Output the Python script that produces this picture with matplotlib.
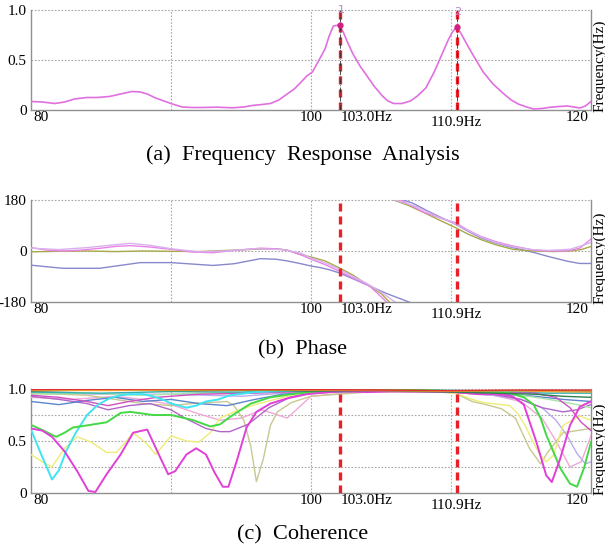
import numpy as np
import matplotlib
matplotlib.use("Agg")
import matplotlib.pyplot as plt

plt.rcParams['font.family'] = ['Liberation Serif', 'DejaVu Serif']

# marker lines (position on axis) and their labels
marker_freqs = [102.1, 110.4]
marker_labels = ["103.0Hz", "110.9Hz"]
marker_ids = ["1", "2"]
marker_mags = [0.85, 0.83]

# (a) frequency response magnitude
freq_a = [80, 80.8, 81.7, 82.4, 83.1, 84, 84.7, 85.6, 86.4, 87.2, 87.8, 88.3, 88.9,
          89.4, 90.1, 90.8, 91.5, 92.2, 93.3, 94.4, 95.2, 95.8, 96.5, 97.1, 97.7,
          98.2, 98.8, 99.3, 99.7, 100.1, 100.5, 101.0, 101.3, 101.6, 102.0, 102.3,
          102.6, 103.0, 103.5, 104.0, 104.5, 105.1, 105.5, 105.9, 106.5, 107.1,
          107.6, 108.2, 108.8, 109.3, 109.8, 110.1, 110.4, 110.7, 111.2, 111.7,
          112.3, 113.0, 113.7, 114.3, 114.8, 115.4, 115.9, 116.5, 117.0, 117.7,
          118.3, 118.8, 119.2, 119.6, 120]
mag_a = [0.085, 0.08, 0.065, 0.08, 0.11, 0.125, 0.125, 0.135, 0.16, 0.185, 0.18, 0.16,
         0.12, 0.095, 0.06, 0.03, 0.025, 0.025, 0.028, 0.022, 0.03, 0.045, 0.055,
         0.065, 0.1, 0.15, 0.21, 0.28, 0.34, 0.38, 0.48, 0.61, 0.74, 0.84, 0.85, 0.78,
         0.68, 0.56, 0.44, 0.34, 0.24, 0.14, 0.09, 0.065, 0.065, 0.09, 0.14, 0.22,
         0.38, 0.54, 0.7, 0.78, 0.83, 0.77, 0.64, 0.52, 0.38, 0.26, 0.17, 0.1, 0.06,
         0.03, 0.01, 0.015, 0.026, 0.035, 0.04, 0.03, 0.02, 0.04, 0.085]

# (b) phase, two branches per channel (wrapped at +-180)
phase = {
    "#8888cc": ([80, 81, 82.3, 84.9, 86.5, 87.8, 90, 91.5, 93, 94.5, 96.4, 97.5, 98.3,
                 99.2, 100, 100.6, 101.3, 102, 103, 104.2, 105.5, 107, 107.5],
                [-50, -55, -61, -61, -50, -41, -41, -46, -51, -45, -27, -29, -35, -44,
                 -53, -58, -66, -77, -98, -124, -152, -180, -190],
                [106.3, 106.6, 107.3, 108.3, 109.3, 110.3, 111.2, 112.1, 113.2, 114.4,
                 115.9, 117, 118.3, 119.2, 120],
                [190, 180, 168, 142, 118, 95, 70, 47, 28, 12, -5, -20, -36, -44, -44]),
    "#a8a848": ([80, 82, 84, 86, 88, 90, 92, 94, 96, 97.5, 98.3, 99.2, 100, 101, 102,
                 103, 104, 105, 105.6, 106],
                [-3, -1, 0, -2, 0, -1, -2, 2, 6, 8, 3, -12, -21, -35, -59, -85, -118,
                 -150, -180, -195],
                [105.6, 105.9, 107, 108.3, 109.3, 110.3, 111.2, 112.1, 113.2, 114.4,
                 115.5, 117.3, 118.5, 119.3, 120],
                [195, 180, 160, 130, 106, 83, 60, 41, 22, 6, 1, -2, 0, 5, 16]),
    "#e884e8": ([80, 81.3, 82.3, 83.5, 85, 86, 87.1, 88.5, 90, 91.6, 93, 94.5, 96.4,
                 97.4, 98.3, 99.3, 100, 101, 102, 103, 104.2, 105.4, 105.8],
                [12, 2, 0, 3, 10, 16, 19, 14, 6, -4, -6, 2, 10, 8, 3, -14, -29, -48,
                 -71, -95, -124, -180, -195],
                [106.0, 106.4, 108, 109.3, 110.3, 111.2, 112.1, 113.2, 114.4, 115.8,
                 116.8, 118.3, 119.2, 120],
                [195, 180, 138, 115, 100, 74, 52, 33, 18, 4, 0, 0, 10, 42]),
    "#d8b0ec": ([80, 82, 84, 86, 87.1, 88.5, 90, 92, 94, 96, 98, 99.3, 100, 101, 102,
                 103, 104, 105, 106, 106.4],
                [10, 5, 12, 22, 27, 20, 8, -3, 0, 8, 5, -8, -25, -42, -64, -90, -115,
                 -145, -180, -192],
                [105.6, 106, 107.5, 109, 110.3, 111.2, 112.1, 113.2, 114.4, 115.8, 117,
                 118.5, 119.3, 120],
                [192, 180, 157, 122, 96, 72, 50, 30, 15, 5, 2, 6, 18, 30]),
}

# (c) coherence, one entry per channel: colour -> (freqs, values)
coherence = {
    "#f0a8d8": ([80, 83, 86, 88, 90, 92, 93.5, 95, 96.5, 98.3, 100, 104, 110, 113,
                 115, 116.5, 117.5, 118.5, 119.3, 120],
                [0.92, 0.9, 0.93, 0.9, 0.85, 0.76, 0.7, 0.72, 0.8, 0.72, 0.93, 0.98,
                 0.97, 0.94, 0.88, 0.72, 0.5, 0.25, 0.3, 0.55]),
    "#bcaaf0": ([80, 85, 90, 95, 100, 105, 110, 113, 115, 116.5, 117.5, 118.3, 119,
                 119.6, 120],
                [0.96, 0.95, 0.95, 0.93, 0.98, 0.98, 0.97, 0.94, 0.9, 0.82, 0.7, 0.55,
                 0.38, 0.28, 0.3]),
    "#c8c890": ([80, 82, 84, 86, 88, 90, 91.5, 92.8, 94, 94.5, 95.2, 95.7, 96.1, 96.6,
                 97.1, 97.6, 98.6, 100, 104, 108, 110.3, 111.5, 112.5, 113.6, 114.6,
                 115.6, 116.4, 116.9, 118, 119, 120],
                [0.96, 0.95, 0.94, 0.9, 0.86, 0.84, 0.86, 0.87, 0.88, 0.84, 0.7, 0.45,
                 0.11, 0.33, 0.65, 0.78, 0.87, 0.93, 0.97, 0.98, 0.96, 0.88, 0.85,
                 0.81, 0.72, 0.43, 0.28, 0.39, 0.58, 0.6, 0.62]),
    "#ecec78": ([80, 80.8, 81.5, 82.4, 83.3, 84.3, 85.4, 86.1, 86.7, 87.3, 88.3, 88.9,
                 90, 91.1, 92, 92.8, 93.5, 94.5, 96, 98, 100, 104, 108, 110.3, 111.5,
                 112.3, 114.2, 114.8, 115.4, 115.9, 116.4, 116.8, 117.3, 118, 119.2,
                 120],
                [0.37, 0.3, 0.25, 0.43, 0.54, 0.49, 0.39, 0.39, 0.48, 0.58, 0.47, 0.37,
                 0.55, 0.5, 0.49, 0.58, 0.72, 0.78, 0.85, 0.92, 0.96, 0.98, 0.98, 0.96,
                 0.9, 0.87, 0.84, 0.76, 0.62, 0.48, 0.36, 0.3, 0.36, 0.65, 0.74, 0.7]),
    "#b066c8": ([80, 82, 84, 85.5, 87, 88.5, 90, 91, 92.5, 93.5, 94.2, 95.5, 97, 98.5,
                 100, 104, 110, 113, 115, 116.5, 118, 119, 120],
                [0.93, 0.9, 0.86, 0.8, 0.84, 0.86, 0.8, 0.72, 0.62, 0.59, 0.59, 0.66,
                 0.82, 0.92, 0.96, 0.98, 0.97, 0.95, 0.9, 0.82, 0.78, 0.8, 0.85]),
    "#5a86cc": ([80, 82, 84, 86, 88, 90, 92, 94, 96, 98, 100, 104, 108, 112, 114, 116,
                 118, 120],
                [0.88, 0.85, 0.89, 0.92, 0.88, 0.9, 0.86, 0.84, 0.9, 0.95, 0.97, 0.98,
                 0.98, 0.96, 0.95, 0.93, 0.9, 0.88]),
    "#a8e4a8": ([80, 84, 88, 92, 96, 100, 105, 110, 114, 117, 119, 120],
                [0.95, 0.96, 0.94, 0.96, 0.97, 0.985, 0.98, 0.97, 0.96, 0.9, 0.85,
                 0.82]),
    "#30b0b0": ([80, 85, 90, 95, 100, 106, 110, 114, 117, 120],
                [0.97, 0.96, 0.975, 0.97, 0.99, 0.98, 0.975, 0.97, 0.96, 0.96]),
    "#d050c0": ([80, 82, 84, 85.5, 87, 89, 92, 96, 100, 110, 116, 117.5, 118.5, 119.3,
                 120],
                [0.94, 0.92, 0.88, 0.84, 0.88, 0.92, 0.95, 0.96, 0.98, 0.97, 0.96,
                 0.92, 0.82, 0.68, 0.6]),
    "#40e4f0": ([80, 80.7, 81.5, 82, 82.5, 83.2, 84, 84.8, 85.6, 86.4, 87.1, 88, 88.7,
                 89.4, 90, 90.6, 91.1, 91.8, 92.5, 93.4, 94.2, 96, 98, 100, 104, 108,
                 112, 116, 120],
                [0.61, 0.38, 0.13, 0.22, 0.4, 0.58, 0.75, 0.85, 0.91, 0.94, 0.95, 0.95,
                 0.93, 0.9, 0.86, 0.84, 0.82, 0.84, 0.88, 0.9, 0.94, 0.97, 0.98, 0.99,
                 0.98, 0.99, 0.98, 0.98, 0.97]),
    "#44d844": ([80, 80.9, 81.8, 82.4, 83, 84, 85.4, 86.4, 87.1, 88.7, 90, 91.6, 92.8,
                 93.5, 94.2, 95, 95.7, 96.4, 97.1, 98.6, 100, 104, 108, 112, 114.2,
                 115.2, 115.9, 116.4, 116.8, 117.3, 117.8, 118.5, 119, 119.5, 120],
                [0.655, 0.6, 0.54, 0.58, 0.63, 0.65, 0.68, 0.77, 0.78, 0.75, 0.75, 0.7,
                 0.64, 0.66, 0.73, 0.8, 0.86, 0.89, 0.92, 0.95, 0.97, 0.99, 0.99, 0.97,
                 0.96, 0.92, 0.85, 0.72, 0.56, 0.4, 0.24, 0.09, 0.06, 0.24, 0.49]),
    "#e040d8": ([80, 80.8, 81.5, 82.4, 83.3, 84.1, 84.6, 85.4, 86.4, 87.3, 88.3, 89.2,
                 89.8, 90.3, 91.1, 91.8, 92.5, 93.1, 93.7, 94.1, 94.7, 95.4, 96.1,
                 97.1, 98.3, 99.7, 102.1, 104, 106, 108, 110.3, 112, 113.5, 114.4,
                 115.2, 116.1, 116.8, 117.2, 117.8, 118.5, 119.2, 120],
                [0.62, 0.6, 0.54, 0.4, 0.21, 0.02, 0.01, 0.18, 0.37, 0.58, 0.61, 0.35,
                 0.18, 0.21, 0.37, 0.43, 0.37, 0.2, 0.06, 0.06, 0.31, 0.63, 0.78, 0.86,
                 0.91, 0.95, 0.98, 0.97, 0.98, 0.98, 0.97, 0.95, 0.95, 0.93, 0.85,
                 0.49, 0.17, 0.105, 0.33, 0.65, 0.83, 0.88]),
    "#308050": ([80, 85, 90, 95, 100, 105, 110.3, 113, 116, 118, 120],
                [0.98, 0.99, 0.985, 0.99, 0.98, 0.985, 0.97, 0.96, 0.95, 0.93, 0.92]),
    "#b07030": ([80, 86, 92, 98, 104, 110, 116, 120],
                [0.985, 0.99, 0.985, 0.99, 0.99, 0.98, 0.985, 0.98]),
    "#f0a030": ([80, 85, 90, 95, 100, 105, 110, 114, 117, 120],
                [0.99, 0.985, 0.99, 0.995, 0.99, 0.985, 0.98, 0.985, 0.975, 0.97]),
    "#e03030": ([80, 90, 100, 105, 110, 115, 120],
                [0.995, 1.0, 0.995, 0.99, 0.985, 0.99, 0.99]),
}

captions = ["(a)  Frequency  Response  Analysis", "(b)  Phase", "(c)  Coherence"]
ylims = [(0, 1.0), (-180, 180), (0, 1.0)]
yticks = [[0, 0.5, 1.0], [-180, 0, 180], [0, 0.5, 1.0]]
ytick_labels = [["0", "0.5", "1.0"], ["-180", "0", "180"], ["0", "0.5", "1.0"]]
hgrid = [[0.5], [0], [0.25, 0.5, 0.75]]

fig = plt.figure(figsize=(6.05, 5.5), dpi=100)
W, H = 605, 550
boxes = [(10, 110), (200, 302), (389, 493)]
caption_y = [155, 350, 535]
axes = []
for top, bot in boxes:
    axes.append(fig.add_axes([31 / W, 1 - bot / H, 560 / W, (bot - top) / H]))

for i, ax in enumerate(axes):
    ax.set_xlim(80, 120)
    ax.set_ylim(*ylims[i])
    ax.set_xticks([])
    ax.set_yticks(yticks[i])
    ax.set_yticklabels(ytick_labels[i], fontsize=11)
    ax.tick_params(axis='y', length=0, pad=3)
    for s in ['left', 'bottom', 'right']:
        ax.spines[s].set_color('#909090')
        ax.spines[s].set_linewidth(1)
    ax.spines['top'].set_visible(False)
    # grid
    for gx, gc in [(90, '#a8a8a8'), (100, '#a8a8a8'), (110, '#88c8a8')]:
        ax.axvline(gx, color=gc, ls=(0, (1.5, 1.5)), lw=0.8, zorder=0)
    for gy in hgrid[i] + [ylims[i][1]]:
        ax.axhline(gy, color='#a8a8a8', ls=(0, (1.5, 1.5)), lw=0.8, zorder=0,
                   clip_on=False)
    # x labels
    lab_kw = dict(xycoords=('data', 'axes fraction'), textcoords='offset points',
                  fontsize=11, va='top', annotation_clip=False)
    ax.annotate("80", (80, 0), xytext=(2, -1), ha='left', **lab_kw)
    ax.annotate("100", (100, 0), xytext=(0, -1), ha='center', **lab_kw)
    ax.annotate("120", (120, 0), xytext=(-2, -1), ha='right', **lab_kw)
    ax.annotate(marker_labels[0], (marker_freqs[0], 0), xytext=(0, -1), ha='left',
                **lab_kw)
    ax.annotate(marker_labels[1], (marker_freqs[1], 0), xytext=(0, -4), ha='center',
                **lab_kw)
    ax.text(1.003, -0.02, "Frequency(Hz)", transform=ax.transAxes, rotation=90,
            ha='left', va='bottom', fontsize=11)
    # marker lines
    for mf in marker_freqs:
        ax.axvline(mf, color='#e8202a', lw=2.4, dashes=(2.4, 1.5), zorder=5)
    fig.text(0.5, 1 - caption_y[i] / H, captions[i], ha='center', va='center',
             fontsize=16)

# (a)
ax = axes[0]
ax.plot(freq_a, mag_a, color='#e070e0', lw=1.2, zorder=3)
for mf in marker_freqs:
    ax.axvline(mf, color='#303030', lw=0.6, ls='-.', zorder=6)
ax.plot(marker_freqs, marker_mags, 'o', color='#d02080', ms=3.5, zorder=7)
for mf, mid, mm in zip(marker_freqs, marker_ids, marker_mags):
    ax.text(mf + 0.05, mm + 0.1, mid, color='#c080d0', fontsize=8, ha='center',
            va='bottom', zorder=7, family='DejaVu Sans')

# (b)
ax = axes[1]
for col, (x1, y1, x2, y2) in phase.items():
    ax.plot(x1, y1, color=col, lw=1.0, zorder=3)
    ax.plot(x2, y2, color=col, lw=1.0, zorder=3)

# (c)
ax = axes[2]
for col, (xs, ys) in coherence.items():
    lw = 1.4 if col in ('#e040d8', '#44d844', '#40e4f0') else 1.0
    ax.plot(xs, ys, color=col, lw=lw, zorder=3)

fig.savefig("out.png", dpi=100)
